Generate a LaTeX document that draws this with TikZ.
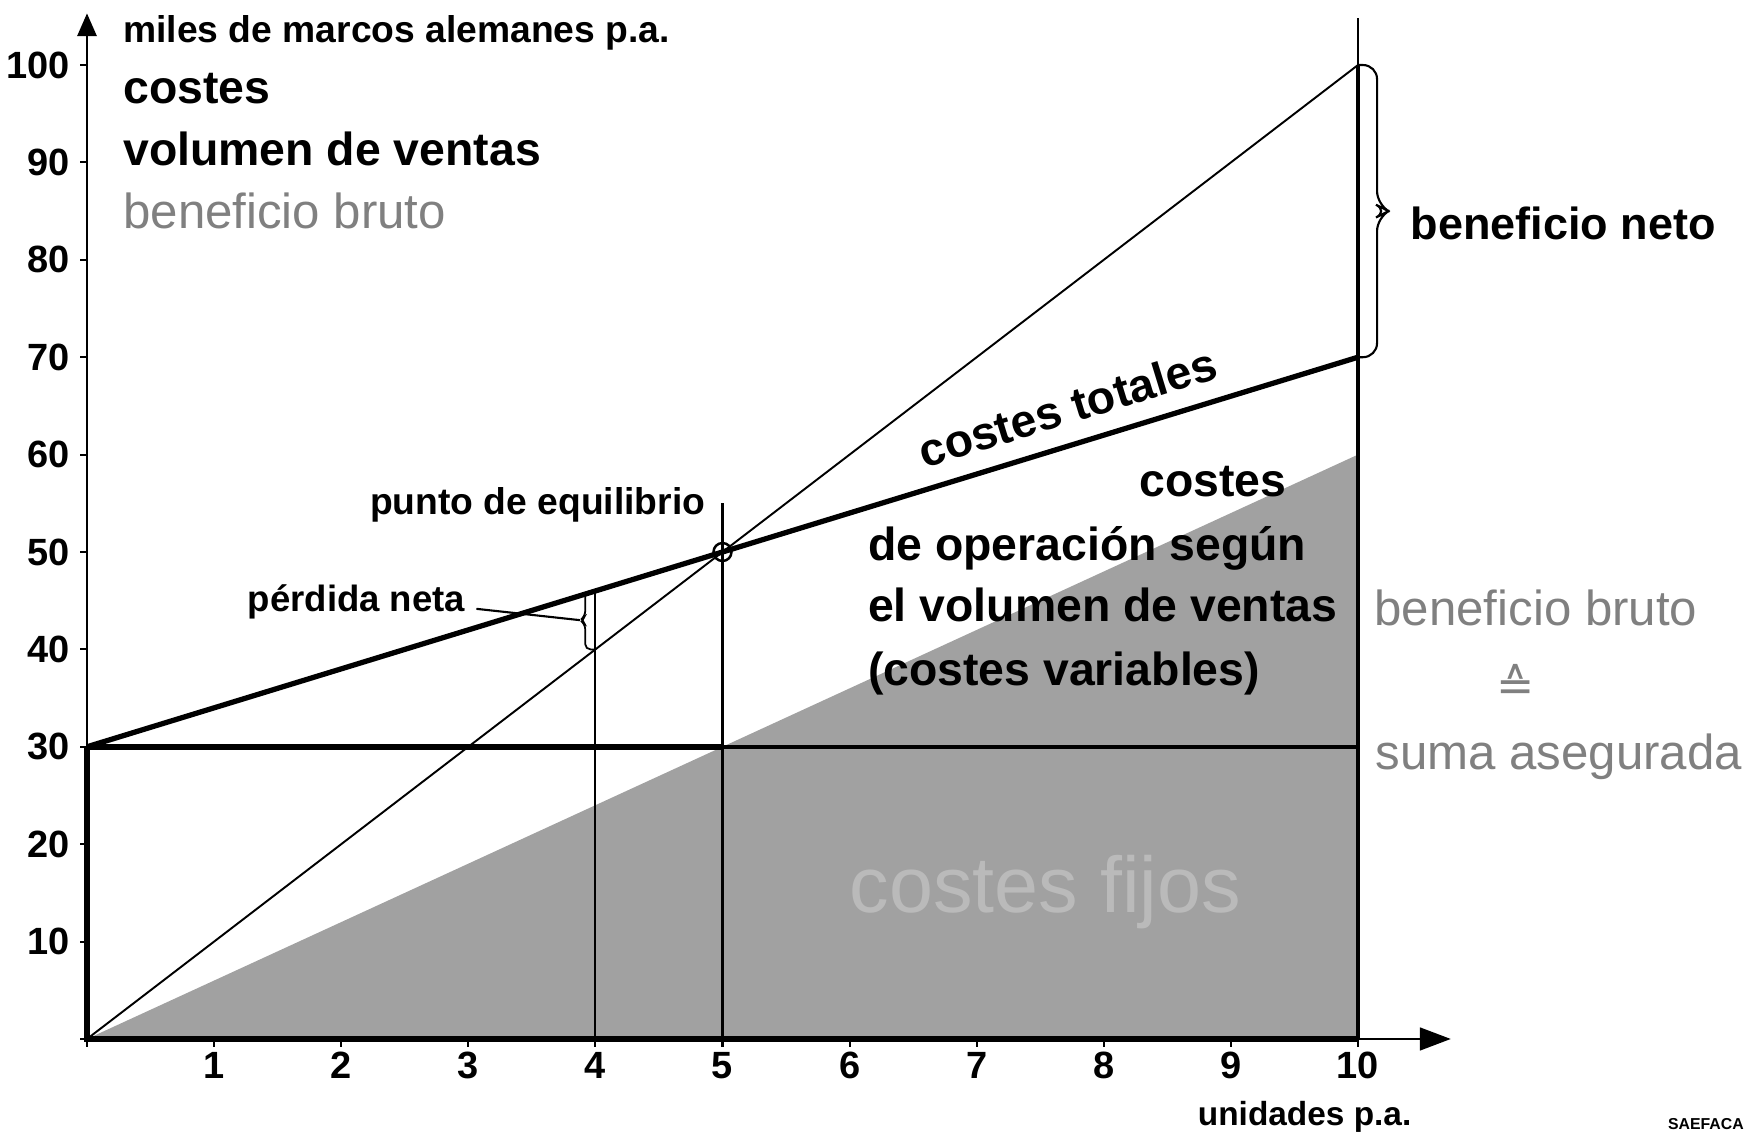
\documentclass[tikz,border=0pt]{standalone}
\usepackage{fontspec}
\setmainfont{Liberation Sans}
\newfontfamily\symfont{DejaVu Sans}
\usetikzlibrary{arrows.meta,positioning}
\begin{document}
\begin{tikzpicture}[x=1.271cm, y=0.0974cm,
  biglbl/.style={font=\bfseries\fontsize{13.2}{15}\selectfont, inner sep=0pt},
  smalllbl/.style={font=\bfseries\fontsize{10.6}{12}\selectfont, inner sep=0pt},
  ticklbl/.style={font=\bfseries\fontsize{10.8}{12}\selectfont, inner sep=0pt},
  greylbl/.style={font=\fontsize{14}{16}\selectfont, text=black!50, inner sep=0pt}]
  \useasboundingbox (-0.87cm,-0.96cm) rectangle (16.61cm,10.39cm);
  % variable costs
  \fill[black!37] (0,0) -- (10,60) -- (10,0) -- cycle;
  \node[font=\fontsize{22.5}{24}\selectfont, text=black!27] (fixed) at (7.54,15.1) {costes fijos};
  % axes
  \draw[line width=0.7pt, -{Triangle[length=6.5pt,width=5.5pt]}] (0,0) -- (0,105.3);
  \draw[line width=0.6pt, -{Triangle[length=8.8pt,width=6.5pt]}] (0,0) -- (10.73,0);
  \draw[line width=1.6pt] (0,30) -- (0,0) -- (10,0);
  \draw[line width=1.7pt] (0,30) -- (5,30);
  \draw[line width=1.1pt] (5,30) -- (10,30);
  \draw[line width=0.6pt] (10,0) -- (10,104.8);
  \draw[line width=1.4pt] (10,0) -- (10,100);
  \draw[line width=0.6pt] (4,0) -- (4,46);
  \draw[line width=0.6pt] (5,0) -- (5,55);
  \draw[line width=0.9pt] (5,0) -- (5,30);
  \foreach \v in {10,20,...,100}
    \draw[line width=0.6pt] (0,\v) -- ++(-0.07cm,0) node[ticklbl, anchor=east, xshift=-0.09cm] (y\v) {\v};
  \draw[line width=0.6pt] (0,0) -- ++(-0.07cm,0) (0,0) -- ++(0,-0.08cm);
  \foreach \u in {1,...,10}
    \draw[line width=0.6pt] (\u,0) -- ++(0,-0.08cm) node[ticklbl, anchor=north, yshift=-0.04cm] (x\u) {\u};
  % sales and total costs
  \draw[line width=0.55pt] (0,0) -- (10,100);
  \draw[line width=1.5pt] (0,30) -- (10,70) node[pos=0.78, above=5pt, sloped, biglbl] (total) {costes totales};
  \node[circle, draw, line width=0.7pt, minimum size=0.18cm, inner sep=0pt] (bep) at (5,50) {};
  % braces
  \draw[line width=0.6pt, rounded corners=4pt] (10,100) -- (10.15,100) -- (10.15,85.6) -- (10.24,85) -- (10.15,84.4) -- (10.15,70) -- (10,70);
  \draw[line width=0.5pt, rounded corners=1.5pt] (4,46) -- (3.92,46) -- (3.92,43.4) -- (3.88,43) -- (3.92,42.6) -- (3.92,40) -- (4,40);
  \coordinate (losstip) at (3.88,43);
  % labels
  \node[smalllbl, anchor=base west] (unit) at (0.28,102.3) {miles de marcos alemanes p.a.};
  \node[biglbl, anchor=base west] (cost) at (0.28,96.1) {costes};
  \node[biglbl, anchor=base west] (sales) at (0.28,89.7) {volumen de ventas};
  \node[greylbl, anchor=base west] (gross) at (0.28,83.2) {beneficio bruto};
  \node[biglbl, anchor=base west, font=\bfseries\fontsize{12.8}{15}\selectfont] (net) at (10.41,82.1) {beneficio neto};
  \node[smalllbl, anchor=base east] (beplbl) at (4.87,53.8) {punto de equilibrio};
  \node[smalllbl, anchor=base west, font=\bfseries\fontsize{10.4}{12}\selectfont] (loss) at (1.26,43.9) {pérdida neta};
  \draw[line width=0.6pt] ([xshift=3pt,yshift=-2pt]loss.east) -- (losstip);
  \node[biglbl, anchor=base] (var1) at (8.86,55.7) {costes};
  \node[biglbl, anchor=base west] (var2) at (6.14,49.1) {de operación según};
  \node[biglbl, anchor=base west] (var3) at (6.14,42.9) {el volumen de ventas};
  \node[biglbl, anchor=base west] (var4) at (6.14,36.3) {(costes variables)};
  \node[greylbl, anchor=base] (gross2) at (11.4,42.5) {beneficio bruto};
  \node[greylbl, font=\symfont\fontsize{13}{14}\selectfont] (corr) at (11.24,36.6) {≙};
  \node[greylbl, anchor=base] (insured) at (11.58,27.7) {suma asegurada};
  \node[font=\bfseries\fontsize{9.5}{11}\selectfont, anchor=base, inner sep=0pt] (xlbl) at (9.58,-8.9) {unidades p.a.};
  \node[font=\bfseries\fontsize{4.5}{5}\selectfont, anchor=base east, inner sep=0pt] (mark) at (13.04,-9.3) {SAEFACA};
\end{tikzpicture}
\end{document}
